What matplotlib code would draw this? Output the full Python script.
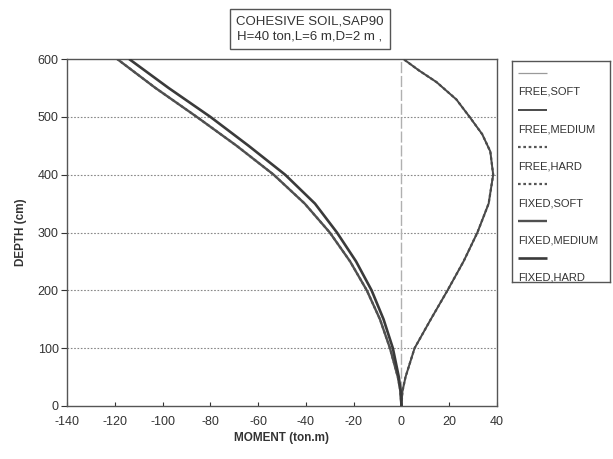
import matplotlib
matplotlib.use("Agg")
import matplotlib.pyplot as plt

plt.rcParams['font.family'] = ['Liberation Sans', 'DejaVu Sans']
plt.rcParams['axes.unicode_minus'] = False

# depth (cm) and moment (ton.m)
depth_free = [0, 25, 50, 100, 150, 200, 250, 300, 350, 400, 440, 470, 500, 530, 560, 580, 600]
free_soft = [0, 0.4, 1.7, 5.5, 12.3, 19.3, 26, 31.8, 36.5, 38.4, 37.2, 33.8, 28.5, 23, 14.7, 7.4, 0.8]
free_medium = [0, 0.4, 1.7, 5.5, 12.3, 19.3, 26, 31.8, 36.5, 38.4, 37.2, 33.8, 28.5, 23, 14.7, 7.4, 0.8]
free_hard = [0, 0.4, 1.7, 5.5, 12.3, 19.3, 26, 31.8, 36.5, 38.4, 37.2, 33.8, 28.5, 23, 14.7, 7.4, 0.8]

depth_fixed = [0, 25, 50, 100, 150, 200, 250, 300, 350, 400, 450, 500, 550, 600]
fixed_soft = [0, -0.4, -1.5, -4.8, -9, -14.5, -21.5, -30, -40.5, -53.5, -69, -85.7, -103, -119]
fixed_medium = [0, -0.4, -1.5, -4.8, -9, -14.5, -21.5, -30, -40.5, -53.5, -69, -85.7, -103, -119]
fixed_hard = [0, -0.3, -1.1, -3.6, -7.5, -12.5, -19, -27, -36.2, -48.7, -64, -80, -97.5, -114]

labels = ["FREE,SOFT", "FREE,MEDIUM", "FREE,HARD", "FIXED,SOFT", "FIXED,MEDIUM", "FIXED,HARD"]
x_ticks = [-140, -120, -100, -80, -60, -40, -20, 0, 20, 40]
y_ticks = [0, 100, 200, 300, 400, 500, 600]

styles = [
    dict(color="#9a9a9a", lw=0.9, ls="-"),
    dict(color="#4a4a4a", lw=1.4, ls="-"),
    dict(color="#555555", lw=1.6, ls=(0, (1.2, 1.2))),
    dict(color="#555555", lw=1.6, ls=(0, (1.2, 1.2))),
    dict(color="#505050", lw=1.7, ls="-"),
    dict(color="#3a3a3a", lw=1.9, ls="-"),
]

fig = plt.figure(figsize=(6.13, 4.59), dpi=100)
W, H = 613, 459
ax = fig.add_axes([67 / W, 1 - 406 / H, 430 / W, 347 / H])

series = [(depth_free, free_soft), (depth_free, free_medium), (depth_free, free_hard),
          (depth_fixed, fixed_soft), (depth_fixed, fixed_medium), (depth_fixed, fixed_hard)]
# dotted and thin ones underneath, solid on top
order = [0, 2, 3, 1, 4, 5]
for z, i in enumerate(order):
    d, m = series[i]
    ax.plot(m, d, zorder=3 + z, solid_capstyle="butt", solid_joinstyle="round", **styles[i])

for yv in y_ticks[1:-1]:
    ax.axhline(yv, color="#888888", lw=0.8, ls=(0, (1.5, 1.5)), zorder=1)
ax.axvline(0, color="#b0b0b0", lw=1.0, ls=(0, (8, 2)), zorder=1)

ax.set_xlim(-140, 40)
ax.set_ylim(0, 600)
ax.set_xticks(x_ticks)
ax.set_yticks(y_ticks)
ax.tick_params(axis="x", direction="in", length=3, labelsize=9, colors="#333333", pad=7)
ax.tick_params(axis="y", direction="out", length=4, labelsize=9, colors="#333333", pad=2)
for s in ax.spines.values():
    s.set_color("#555555")
    s.set_linewidth(1.0)

ax.set_xlabel("MOMENT (ton.m)", fontsize=8.5, fontweight="bold", color="#333333", labelpad=3)
ax.set_ylabel("DEPTH (cm)", fontsize=8.5, fontweight="bold", color="#333333", labelpad=8)

fig.text(310 / W, 1 - 29 / H, "COHESIVE SOIL,SAP90\nH=40 ton,L=6 m,D=2 m ,",
         ha="center", va="center", fontsize=9.5, color="#333333", linespacing=1.35,
         bbox=dict(boxstyle="square,pad=0.45", fc="white", ec="#555555", lw=1.0))

# legend box: sample line above each label
lg = fig.add_axes([512 / W, 1 - 282 / H, 98 / W, 221 / H])
lg.set_xlim(0, 1)
lg.set_ylim(0, 1)
lg.set_xticks([])
lg.set_yticks([])
for s in lg.spines.values():
    s.set_color("#555555")
    s.set_linewidth(1.0)
for i, lab in enumerate(labels):
    ys = 1 - (12 + 37 * i) / 221
    yl = 1 - (31 + 37 * i) / 221
    lg.plot([0.06, 0.36], [ys, ys], solid_capstyle="butt", **styles[i])
    lg.text(0.06, yl, lab, ha="left", va="center", fontsize=8, color="#333333")

fig.savefig("out.png", dpi=100)
